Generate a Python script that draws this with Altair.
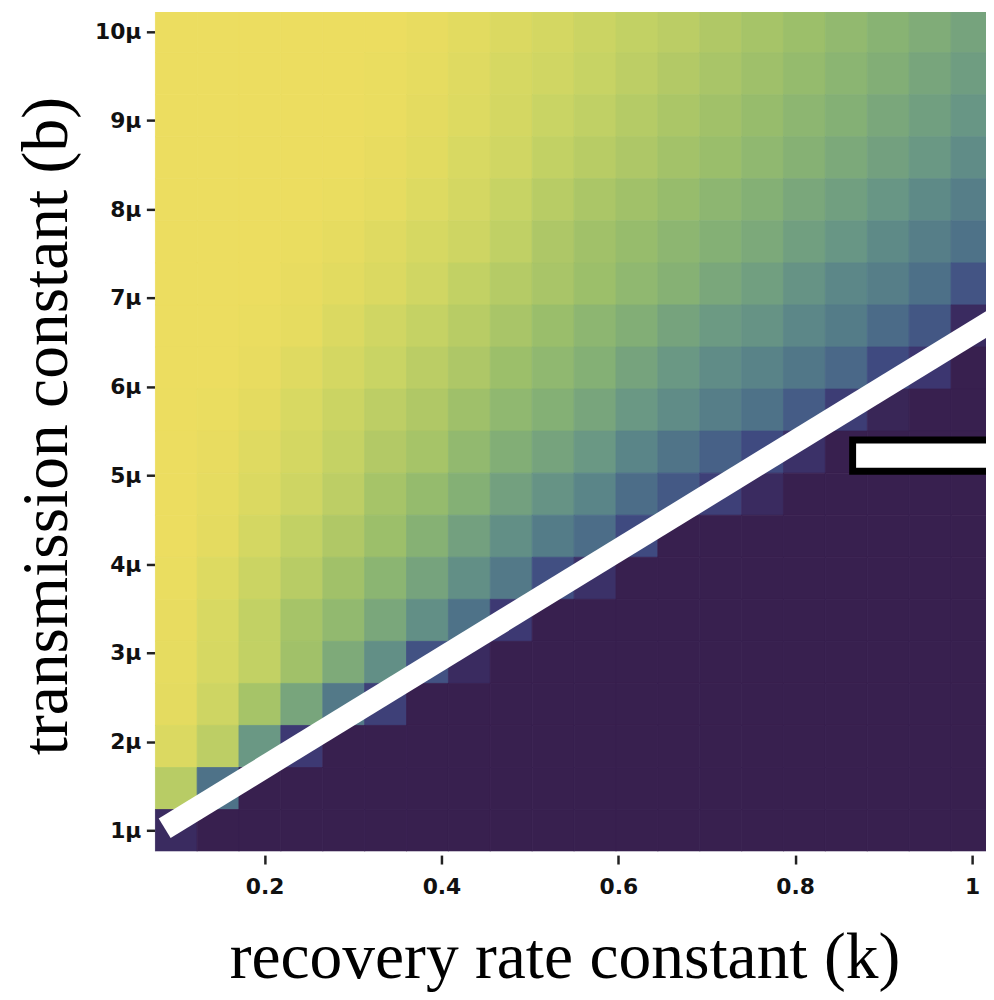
import altair as alt
import pandas as pd

# recovery rate constant k (cell centres)
k_values = [0.1, 0.1474, 0.1947, 0.2421, 0.2895, 0.3368, 0.3842, 0.4316, 0.4789, 0.5263,
            0.5737, 0.6211, 0.6684, 0.7158, 0.7632, 0.8105, 0.8579, 0.9053, 0.9526, 1.0]

# transmission constant b (cell centres), top row first
b_values = [10.0e-6, 9.5263e-6, 9.0526e-6, 8.5789e-6, 8.1053e-6, 7.6316e-6, 7.1579e-6,
            6.6842e-6, 6.2105e-6, 5.7368e-6, 5.2632e-6, 4.7895e-6, 4.3158e-6, 3.8421e-6,
            3.3684e-6, 2.8947e-6, 2.4211e-6, 1.9474e-6, 1.4737e-6, 1.0e-6]

# colour value of each cell, one list per row (same order as b_values)
row01 = [1, 1, 1, 1, 1, 1, 0.98, 0.95, 0.92, 0.89, 0.85, 0.81, 0.78, 0.74, 0.70, 0.66, 0.62, 0.58, 0.54, 0.49]
row02 = [1, 1, 1, 1, 1, 0.99, 0.97, 0.94, 0.90, 0.87, 0.83, 0.79, 0.75, 0.71, 0.67, 0.63, 0.59, 0.55, 0.50, 0.45]
row03 = [1, 1, 1, 1, 1, 0.99, 0.96, 0.93, 0.89, 0.84, 0.80, 0.76, 0.72, 0.68, 0.64, 0.60, 0.56, 0.51, 0.46, 0.41]
row04 = [1, 1, 1, 1, 1, 0.98, 0.95, 0.91, 0.87, 0.81, 0.77, 0.73, 0.69, 0.65, 0.61, 0.57, 0.52, 0.47, 0.42, 0.37]
row05 = [1, 1, 1, 1, 0.99, 0.97, 0.93, 0.89, 0.83, 0.77, 0.72, 0.68, 0.64, 0.60, 0.56, 0.51, 0.46, 0.41, 0.36, 0.31]
row06 = [1, 1, 1, 0.99, 0.97, 0.94, 0.90, 0.86, 0.80, 0.73, 0.68, 0.64, 0.60, 0.56, 0.52, 0.46, 0.41, 0.36, 0.31, 0.26]
row07 = [1, 1, 1, 0.98, 0.95, 0.92, 0.87, 0.81, 0.76, 0.71, 0.66, 0.61, 0.57, 0.51, 0.46, 0.40, 0.35, 0.31, 0.25, 0.14]
row08 = [1, 1, 0.99, 0.97, 0.92, 0.87, 0.82, 0.77, 0.71, 0.65, 0.60, 0.55, 0.49, 0.43, 0.40, 0.35, 0.30, 0.23, 0.15, 0.02]
row09 = [1, 1, 0.98, 0.94, 0.89, 0.84, 0.78, 0.73, 0.66, 0.61, 0.56, 0.49, 0.42, 0.37, 0.33, 0.28, 0.22, 0.10, 0.04, 0]
row10 = [1, 0.99, 0.96, 0.91, 0.85, 0.79, 0.74, 0.67, 0.61, 0.56, 0.50, 0.42, 0.37, 0.31, 0.26, 0.17, 0.06, 0.01, 0, 0]
row11 = [1, 0.98, 0.94, 0.89, 0.82, 0.75, 0.70, 0.62, 0.55, 0.49, 0.42, 0.34, 0.27, 0.19, 0.10, 0.03, 0, 0, 0, 0]
row12 = [1, 0.97, 0.92, 0.86, 0.79, 0.70, 0.63, 0.56, 0.47, 0.40, 0.34, 0.24, 0.16, 0.07, 0.02, 0, 0, 0, 0, 0]
row13 = [1, 0.96, 0.89, 0.81, 0.74, 0.66, 0.57, 0.47, 0.38, 0.30, 0.24, 0.10, 0, 0, 0, 0, 0, 0, 0, 0]
row14 = [0.99, 0.93, 0.85, 0.77, 0.68, 0.59, 0.49, 0.38, 0.29, 0.12, 0.03, 0, 0, 0, 0, 0, 0, 0, 0, 0]
row15 = [0.98, 0.91, 0.81, 0.70, 0.62, 0.51, 0.38, 0.26, 0.05, 0, 0, 0, 0, 0, 0, 0, 0, 0, 0, 0]
row16 = [0.97, 0.90, 0.81, 0.68, 0.53, 0.38, 0.13, 0.02, 0, 0, 0, 0, 0, 0, 0, 0, 0, 0, 0, 0]
row17 = [0.96, 0.86, 0.70, 0.50, 0.29, 0.07, 0, 0, 0, 0, 0, 0, 0, 0, 0, 0, 0, 0, 0, 0]
row18 = [0.92, 0.79, 0.42, 0.05, 0, 0, 0, 0, 0, 0, 0, 0, 0, 0, 0, 0, 0, 0, 0, 0]
row19 = [0.77, 0.26, 0, 0, 0, 0, 0, 0, 0, 0, 0, 0, 0, 0, 0, 0, 0, 0, 0, 0]
row20 = [0.02, 0, 0, 0, 0, 0, 0, 0, 0, 0, 0, 0, 0, 0, 0, 0, 0, 0, 0, 0]

rows = [row01, row02, row03, row04, row05, row06, row07, row08, row09, row10,
        row11, row12, row13, row14, row15, row16, row17, row18, row19, row20]

# annotation: white threshold line and boxed marker
line_k = [0.087, 1.05]
line_b = [1.026e-6, 6.909e-6]
box_k = [0.865, 1.2]
box_b = [5.048e-6, 5.40e-6]

x_ticks = [0.2, 0.4, 0.6, 0.8, 1]
y_ticks = [1e-6, 2e-6, 3e-6, 4e-6, 5e-6, 6e-6, 7e-6, 8e-6, 9e-6, 10e-6]

half_k = (k_values[1] - k_values[0]) / 2
half_b = (b_values[0] - b_values[1]) / 2

records = []
for b, row in zip(b_values, rows):
    for k, v in zip(k_values, row):
        records.append({"k": k - half_k, "k_end": k + half_k,
                        "b": b - half_b, "b_end": b + half_b, "v": v})
cells = pd.DataFrame(records)
line_df = pd.DataFrame({"k": line_k, "b": line_b})
box_df = pd.DataFrame({"k": [box_k[0]], "k_end": [box_k[1]],
                       "b": [box_b[0]], "b_end": [box_b[1]]})

stops = [0, 0.04, 0.10, 0.18, 0.26, 0.34, 0.42, 0.50, 0.58, 0.66, 0.74, 0.82, 0.90, 0.96, 1.0]
palette = ["#38204f", "#3c3670", "#3f4a80", "#465e87", "#4e7288", "#5a8588", "#6a9884",
           "#78a57c", "#88b373", "#9cbf6a", "#b0c866", "#c5d264", "#d6d862", "#e4db60", "#ecdd60"]
color_scale = alt.Scale(domain=stops, range=palette, interpolate="rgb")

x_scale = alt.Scale(domain=[0.07583, 1.01582], nice=False, zero=False)
y_scale = alt.Scale(domain=[0.7687e-6, 10.2212e-6], nice=False, zero=False)

x_axis = alt.Axis(
    values=x_ticks, labelExpr="format(datum.value, '~g')",
    title="recovery rate constant (k)", titleFont="Liberation Serif", titleFontSize=66,
    titleFontWeight="normal", titleColor="#000000", titleX=413, titleY=123,
    titleAlign="center", titleBaseline="alphabetic",
    labelFont="DejaVu Sans", labelFontSize=22, labelFontWeight="bold", labelColor="#111111",
    labelBaseline="top", labelPadding=13, offset=4,
    tickColor="#222222", tickWidth=2.5, tickSize=9, domain=False, grid=False,
)
y_axis = alt.Axis(
    values=y_ticks, labelExpr="format(datum.value * 1e6, '.0f') + 'μ'",
    title="transmission constant (b)", titleFont="Liberation Serif", titleFontSize=66,
    titleFontWeight="normal", titleColor="#000000", titleX=-89, titleY=417, titleAngle=270,
    titleAlign="center", titleBaseline="alphabetic",
    labelFont="DejaVu Sans", labelFontSize=22, labelFontWeight="bold", labelColor="#111111",
    labelPadding=5.5, tickColor="#222222", tickWidth=2.5, tickSize=8.5,
    domain=False, grid=False,
)

heat = alt.Chart(cells).mark_rect(clip=True, strokeWidth=0.8).encode(
    x=alt.X("k:Q", scale=x_scale, axis=x_axis),
    x2="k_end:Q",
    y=alt.Y("b:Q", scale=y_scale, axis=y_axis),
    y2="b_end:Q",
    color=alt.Color("v:Q", scale=color_scale, legend=None),
    stroke=alt.Stroke("v:Q", scale=color_scale, legend=None),
)

line = alt.Chart(line_df).mark_line(clip=True, color="white", strokeWidth=23,
                                    strokeCap="butt").encode(
    x="k:Q", y="b:Q"
)

box = alt.Chart(box_df).mark_rect(clip=True, fill="white", stroke="black",
                                  strokeWidth=7).encode(
    x="k:Q", x2="k_end:Q", y="b:Q", y2="b_end:Q"
)

chart = alt.layer(heat, line, box).properties(
    width=838, height=846,
    padding={"left": 148, "top": 0, "right": 0, "bottom": 138},
    autosize=alt.AutoSizeParams(type="none"),
    background="white",
).configure_view(stroke=None)

chart.save("out.html", embed_options={"renderer": "svg", "actions": False})
